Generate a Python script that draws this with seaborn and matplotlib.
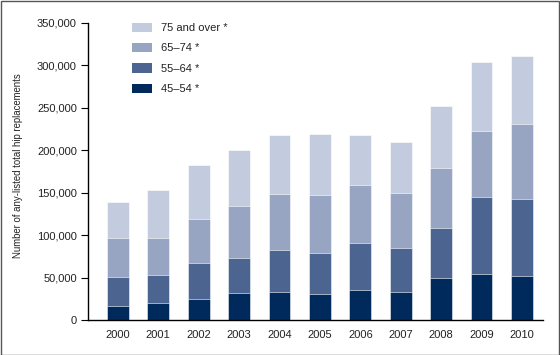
import matplotlib
matplotlib.use("Agg")
import matplotlib.pyplot as plt
from matplotlib.patches import Patch, Rectangle
import seaborn as sns
import pandas as pd
import numpy as np

years = ["2000", "2001", "2002", "2003", "2004", "2005", "2006", "2007", "2008", "2009", "2010"]
age_45_54 = [17000, 20000, 25000, 32000, 33000, 31000, 35500, 33000, 49500, 54600, 52000]
age_55_64 = [33300, 32700, 42600, 41000, 49200, 48400, 55700, 51500, 58600, 90400, 91000]
age_65_74 = [46700, 43600, 51100, 61300, 66700, 68400, 68000, 65300, 71100, 77900, 88500]
age_75_up = [42000, 56700, 64100, 66400, 69600, 71500, 59000, 60500, 73500, 81300, 79800]

series_names = ["45\u201354 *", "55\u201364 *", "65\u201374 *", "75 and over *"]
series_vals = [age_45_54, age_55_64, age_65_74, age_75_up]
colors = ["#012a5c", "#4b6590", "#97a4c2", "#c3cbde"]

sns.set_style("white")
plt.rcParams['font.family'] = ['Liberation Sans', 'DejaVu Sans']

fig = plt.figure(figsize=(5.6, 3.55), dpi=100)
ax = fig.add_axes([88/560, 1 - 320/355, (543-88)/560, (320-23)/355])

cum = np.cumsum(np.array(series_vals), axis=0)
for i in range(len(series_names) - 1, -1, -1):
    df = pd.DataFrame({"year": years, "value": cum[i]})
    sns.barplot(data=df, x="year", y="value", color=colors[i], width=0.54,
                saturation=1, edgecolor="white", linewidth=0.4, ax=ax, order=years)

ax.set_ylim(0, 350000)
ax.set_xlim(-0.74, 10.52)
ax.set_yticks(np.arange(0, 350001, 50000))
ax.set_yticklabels([f"{v:,}" for v in range(0, 350001, 50000)])
ax.set_xlabel("")
ax.set_ylabel("")
fig.text(18/560, 1 - 166/355, "Number of any-listed total hip replacements", rotation=90,
         ha="center", va="center", fontsize=6.9, color="#222222")
for s in ["top", "right"]:
    ax.spines[s].set_visible(False)
for s in ["left", "bottom"]:
    ax.spines[s].set_color("black")
    ax.spines[s].set_linewidth(1.0)
ax.tick_params(axis="y", which="both", left=True, length=5, width=0.8, color="black",
               labelsize=8, labelcolor="#222222", pad=3)
ax.tick_params(axis="x", bottom=False, labelsize=8, labelcolor="#222222", pad=4)

handles = [Patch(facecolor=colors[i], edgecolor="none", label=series_names[i]) for i in range(3, -1, -1)]
leg = ax.legend(handles=handles, loc="upper left", bbox_to_anchor=(0.075, 1.035), frameon=False,
                fontsize=8, handlelength=1.8, handleheight=0.9, labelspacing=0.9, handletextpad=0.8)
for t in leg.get_texts():
    t.set_color("#222222")

fig.patches.append(Rectangle((0.5/560, 0.5/355), 1 - 1.5/560, 1 - 1.5/355, transform=fig.transFigure,
                             fill=False, edgecolor="#555555", linewidth=1.0))

fig.savefig("out.png", dpi=100)
